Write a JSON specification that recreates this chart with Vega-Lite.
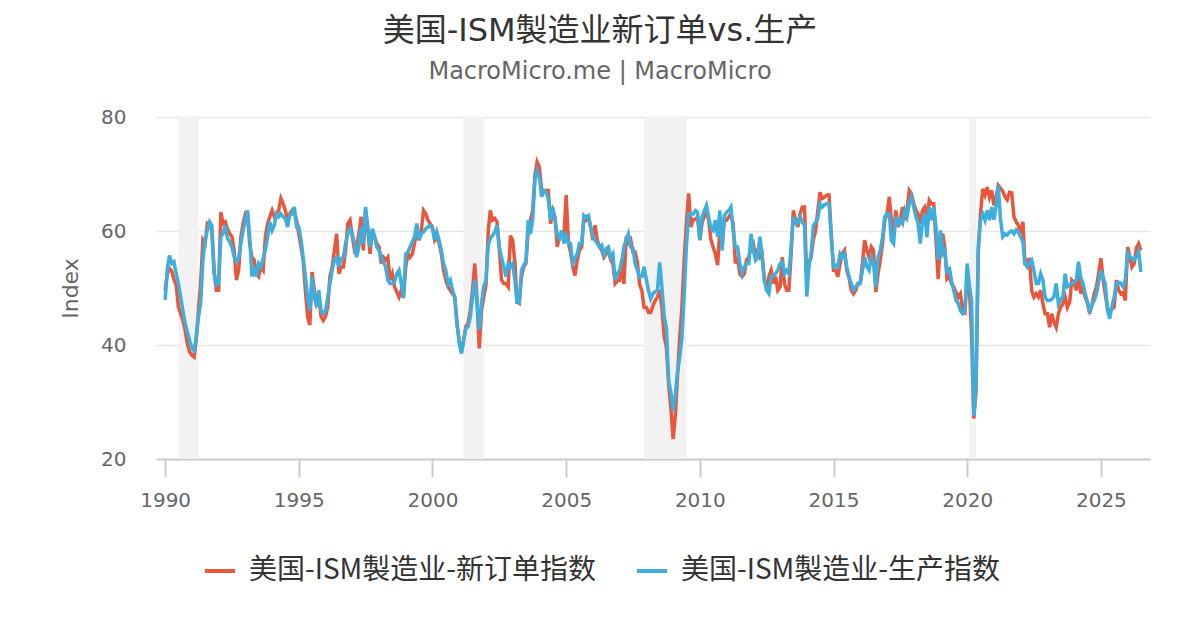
{
  "$schema": "https://vega.github.io/schema/vega-lite/v6.json",
  "width": 994,
  "height": 342,
  "autosize": {"type": "none"},
  "padding": {"left": 156, "top": 117, "right": 50, "bottom": 171},
  "background": "#ffffff",
  "title": {
    "text": "美国-ISM製造业新订单vs.生产",
    "subtitle": "MacroMicro.me | MacroMicro",
    "anchor": "middle",
    "frame": "group",
    "dx": -53,
    "offset": 22,
    "font": "DejaVu Sans, Noto Sans CJK SC",
    "fontSize": 32,
    "fontWeight": "normal",
    "color": "#333333",
    "subtitleFont": "DejaVu Sans",
    "subtitleFontSize": 24,
    "subtitleColor": "#666666",
    "subtitlePadding": 12
  },
  "config": {"view": {"stroke": null}, "font": "DejaVu Sans"},
  "datasets": {
    "rec": [
      {"s": "1990-07", "e": "1991-04"},
      {"s": "2001-03", "e": "2001-12"},
      {"s": "2007-12", "e": "2009-07"},
      {"s": "2020-02", "e": "2020-05"}
    ],
    "ism": [
      {"d":"1990-01","n":49.6,"p":47.9},{"d":"1990-02","n":52.5,"p":53.5},{"d":"1990-03","n":53.4,"p":55.7},{"d":"1990-04","n":53.0,"p":54.3},{"d":"1990-05","n":51.5,"p":54.6},{"d":"1990-06","n":50.5,"p":52.5},{"d":"1990-07","n":46.7,"p":50.8},{"d":"1990-08","n":45.5,"p":48.4},{"d":"1990-09","n":44.3,"p":46.0},{"d":"1990-10","n":42.6,"p":43.8},{"d":"1990-11","n":40.2,"p":42.3},{"d":"1990-12","n":38.8,"p":40.8},
      {"d":"1991-01","n":38.2,"p":39.4},{"d":"1991-02","n":37.9,"p":39.0},{"d":"1991-03","n":40.8,"p":41.4},{"d":"1991-04","n":46.0,"p":44.9},{"d":"1991-05","n":50.8,"p":47.3},{"d":"1991-06","n":58.4,"p":54.9},{"d":"1991-07","n":57.8,"p":58.4},{"d":"1991-08","n":61.3,"p":60.1},{"d":"1991-09","n":61.0,"p":61.6},{"d":"1991-10","n":60.1,"p":61.0},{"d":"1991-11","n":53.1,"p":52.5},{"d":"1991-12","n":49.6,"p":50.5},
      {"d":"1992-01","n":49.6,"p":50.8},{"d":"1992-02","n":63.3,"p":59.0},{"d":"1992-03","n":61.3,"p":59.5},{"d":"1992-04","n":61.6,"p":61.0},{"d":"1992-05","n":60.4,"p":58.7},{"d":"1992-06","n":59.5,"p":58.1},{"d":"1992-07","n":59.0,"p":57.2},{"d":"1992-08","n":56.6,"p":55.4},{"d":"1992-09","n":51.4,"p":54.6},{"d":"1992-10","n":53.1,"p":55.4},{"d":"1992-11","n":59.0,"p":57.8},{"d":"1992-12","n":61.3,"p":60.1},
      {"d":"1993-01","n":63.0,"p":61.9},{"d":"1993-02","n":62.5,"p":63.6},{"d":"1993-03","n":57.8,"p":59.0},{"d":"1993-04","n":55.4,"p":52.0},{"d":"1993-05","n":54.9,"p":53.7},{"d":"1993-06","n":52.5,"p":52.0},{"d":"1993-07","n":52.0,"p":54.3},{"d":"1993-08","n":53.7,"p":53.7},{"d":"1993-09","n":53.1,"p":55.2},{"d":"1993-10","n":59.0,"p":56.6},{"d":"1993-11","n":61.3,"p":59.0},{"d":"1993-12","n":62.5,"p":61.6},
      {"d":"1994-01","n":63.6,"p":60.1},{"d":"1994-02","n":62.5,"p":61.0},{"d":"1994-03","n":63.0,"p":63.0},{"d":"1994-04","n":63.6,"p":62.5},{"d":"1994-05","n":65.7,"p":63.0},{"d":"1994-06","n":64.8,"p":62.5},{"d":"1994-07","n":63.6,"p":62.2},{"d":"1994-08","n":61.9,"p":60.7},{"d":"1994-09","n":63.0,"p":62.8},{"d":"1994-10","n":63.6,"p":63.0},{"d":"1994-11","n":63.3,"p":64.2},{"d":"1994-12","n":61.9,"p":60.7},
      {"d":"1995-01","n":59.5,"p":60.7},{"d":"1995-02","n":57.2,"p":58.4},{"d":"1995-03","n":54.9,"p":55.4},{"d":"1995-04","n":49.6,"p":52.0},{"d":"1995-05","n":45.0,"p":48.4},{"d":"1995-06","n":43.5,"p":46.0},{"d":"1995-07","n":52.8,"p":52.0},{"d":"1995-08","n":49.6,"p":48.4},{"d":"1995-09","n":47.3,"p":46.7},{"d":"1995-10","n":48.4,"p":49.6},{"d":"1995-11","n":45.0,"p":46.0},{"d":"1995-12","n":44.3,"p":45.5},
      {"d":"1996-01","n":45.0,"p":46.0},{"d":"1996-02","n":46.7,"p":48.4},{"d":"1996-03","n":52.0,"p":50.8},{"d":"1996-04","n":53.7,"p":53.1},{"d":"1996-05","n":56.6,"p":54.9},{"d":"1996-06","n":59.5,"p":55.4},{"d":"1996-07","n":52.5,"p":53.7},{"d":"1996-08","n":53.7,"p":55.2},{"d":"1996-09","n":53.7,"p":55.4},{"d":"1996-10","n":56.6,"p":57.8},{"d":"1996-11","n":61.3,"p":59.5},{"d":"1996-12","n":61.9,"p":60.4},
      {"d":"1997-01","n":59.0,"p":59.5},{"d":"1997-02","n":56.6,"p":57.8},{"d":"1997-03","n":57.2,"p":55.4},{"d":"1997-04","n":59.5,"p":57.2},{"d":"1997-05","n":62.5,"p":60.7},{"d":"1997-06","n":56.6,"p":57.8},{"d":"1997-07","n":63.6,"p":64.2},{"d":"1997-08","n":60.1,"p":60.7},{"d":"1997-09","n":56.0,"p":57.2},{"d":"1997-10","n":60.1,"p":60.4},{"d":"1997-11","n":59.0,"p":59.0},{"d":"1997-12","n":57.8,"p":57.2},
      {"d":"1998-01","n":57.2,"p":56.6},{"d":"1998-02","n":54.3,"p":55.4},{"d":"1998-03","n":55.4,"p":54.6},{"d":"1998-04","n":54.9,"p":53.7},{"d":"1998-05","n":55.4,"p":51.4},{"d":"1998-06","n":51.4,"p":50.8},{"d":"1998-07","n":52.5,"p":50.8},{"d":"1998-08","n":50.2,"p":51.1},{"d":"1998-09","n":49.3,"p":52.5},{"d":"1998-10","n":48.4,"p":53.1},{"d":"1998-11","n":49.6,"p":50.8},{"d":"1998-12","n":48.4,"p":48.2},
      {"d":"1999-01","n":53.7,"p":56.0},{"d":"1999-02","n":56.0,"p":56.3},{"d":"1999-03","n":55.4,"p":57.2},{"d":"1999-04","n":56.0,"p":58.1},{"d":"1999-05","n":57.8,"p":59.0},{"d":"1999-06","n":60.1,"p":61.3},{"d":"1999-07","n":58.4,"p":58.4},{"d":"1999-08","n":60.1,"p":59.5},{"d":"1999-09","n":63.6,"p":59.8},{"d":"1999-10","n":63.0,"p":60.4},{"d":"1999-11","n":61.9,"p":60.7},{"d":"1999-12","n":61.3,"p":61.0},
      {"d":"2000-01","n":60.7,"p":60.4},{"d":"2000-02","n":58.4,"p":58.4},{"d":"2000-03","n":59.0,"p":59.8},{"d":"2000-04","n":57.8,"p":58.4},{"d":"2000-05","n":56.0,"p":56.6},{"d":"2000-06","n":53.1,"p":54.3},{"d":"2000-07","n":51.4,"p":53.1},{"d":"2000-08","n":50.2,"p":50.8},{"d":"2000-09","n":49.6,"p":51.4},{"d":"2000-10","n":49.0,"p":49.6},{"d":"2000-11","n":48.4,"p":48.4},{"d":"2000-12","n":43.8,"p":43.8},
      {"d":"2001-01","n":40.8,"p":40.2},{"d":"2001-02","n":38.8,"p":38.5},{"d":"2001-03","n":40.8,"p":40.8},{"d":"2001-04","n":43.2,"p":42.9},{"d":"2001-05","n":43.8,"p":43.2},{"d":"2001-06","n":46.0,"p":44.9},{"d":"2001-07","n":49.6,"p":48.4},{"d":"2001-08","n":54.3,"p":51.4},{"d":"2001-09","n":47.9,"p":47.3},{"d":"2001-10","n":39.4,"p":42.6},{"d":"2001-11","n":46.0,"p":47.3},{"d":"2001-12","n":48.4,"p":50.2},
      {"d":"2002-01","n":50.5,"p":51.4},{"d":"2002-02","n":60.0,"p":57.5},{"d":"2002-03","n":63.6,"p":58.7},{"d":"2002-04","n":61.9,"p":59.2},{"d":"2002-05","n":62.2,"p":59.8},{"d":"2002-06","n":61.6,"p":61.0},{"d":"2002-07","n":57.2,"p":57.2},{"d":"2002-08","n":51.4,"p":55.4},{"d":"2002-09","n":50.8,"p":53.7},{"d":"2002-10","n":50.8,"p":52.0},{"d":"2002-11","n":50.2,"p":54.3},{"d":"2002-12","n":59.2,"p":53.7},
      {"d":"2003-01","n":58.4,"p":54.3},{"d":"2003-02","n":54.3,"p":51.3},{"d":"2003-03","n":47.5,"p":47.5},{"d":"2003-04","n":47.3,"p":47.5},{"d":"2003-05","n":52.0,"p":53.1},{"d":"2003-06","n":53.7,"p":54.0},{"d":"2003-07","n":54.3,"p":54.6},{"d":"2003-08","n":60.1,"p":61.9},{"d":"2003-09","n":61.9,"p":59.5},{"d":"2003-10","n":63.6,"p":61.9},{"d":"2003-11","n":69.8,"p":68.9},{"d":"2003-12","n":72.1,"p":70.6},
      {"d":"2004-01","n":71.2,"p":69.5},{"d":"2004-02","n":67.1,"p":66.0},{"d":"2004-03","n":67.1,"p":67.1},{"d":"2004-04","n":67.1,"p":66.8},{"d":"2004-05","n":67.1,"p":65.7},{"d":"2004-06","n":61.3,"p":61.9},{"d":"2004-07","n":63.6,"p":64.2},{"d":"2004-08","n":62.5,"p":61.9},{"d":"2004-09","n":57.2,"p":59.5},{"d":"2004-10","n":59.0,"p":58.7},{"d":"2004-11","n":59.5,"p":60.1},{"d":"2004-12","n":59.0,"p":57.8},
      {"d":"2005-01","n":66.3,"p":59.2},{"d":"2005-02","n":57.8,"p":57.8},{"d":"2005-03","n":56.3,"p":57.8},{"d":"2005-04","n":53.7,"p":54.3},{"d":"2005-05","n":52.2,"p":55.2},{"d":"2005-06","n":54.9,"p":56.0},{"d":"2005-07","n":56.6,"p":57.8},{"d":"2005-08","n":57.2,"p":57.8},{"d":"2005-09","n":62.5,"p":62.7},{"d":"2005-10","n":61.9,"p":62.5},{"d":"2005-11","n":62.5,"p":62.7},{"d":"2005-12","n":60.7,"p":60.7},
      {"d":"2006-01","n":58.4,"p":59.2},{"d":"2006-02","n":61.0,"p":58.4},{"d":"2006-03","n":58.4,"p":57.8},{"d":"2006-04","n":57.2,"p":57.2},{"d":"2006-05","n":56.6,"p":57.5},{"d":"2006-06","n":55.4,"p":55.4},{"d":"2006-07","n":56.0,"p":56.9},{"d":"2006-08","n":56.6,"p":57.2},{"d":"2006-09","n":54.9,"p":55.4},{"d":"2006-10","n":54.3,"p":56.0},{"d":"2006-11","n":50.8,"p":51.3},{"d":"2006-12","n":51.3,"p":52.5},
      {"d":"2007-01","n":51.3,"p":53.1},{"d":"2007-02","n":55.0,"p":54.8},{"d":"2007-03","n":50.7,"p":57.2},{"d":"2007-04","n":59.0,"p":58.5},{"d":"2007-05","n":58.0,"p":59.5},{"d":"2007-06","n":58.5,"p":57.2},{"d":"2007-07","n":56.3,"p":57.0},{"d":"2007-08","n":56.3,"p":54.3},{"d":"2007-09","n":54.5,"p":53.1},{"d":"2007-10","n":50.7,"p":51.9},{"d":"2007-11","n":49.5,"p":52.0},{"d":"2007-12","n":46.6,"p":53.7},
      {"d":"2008-01","n":46.6,"p":51.5},{"d":"2008-02","n":45.7,"p":49.5},{"d":"2008-03","n":45.7,"p":48.1},{"d":"2008-04","n":46.9,"p":49.0},{"d":"2008-05","n":47.8,"p":49.4},{"d":"2008-06","n":48.4,"p":49.6},{"d":"2008-07","n":49.6,"p":54.5},{"d":"2008-08","n":46.6,"p":50.1},{"d":"2008-09","n":41.5,"p":45.0},{"d":"2008-10","n":39.6,"p":43.0},{"d":"2008-11","n":33.1,"p":33.7},{"d":"2008-12","n":29.0,"p":31.7},
      {"d":"2009-01","n":23.5,"p":28.4},{"d":"2009-02","n":27.8,"p":31.4},{"d":"2009-03","n":34.3,"p":35.2},{"d":"2009-04","n":41.3,"p":37.8},{"d":"2009-05","n":46.6,"p":41.3},{"d":"2009-06","n":54.8,"p":49.0},{"d":"2009-07","n":61.3,"p":57.2},{"d":"2009-08","n":66.6,"p":63.0},{"d":"2009-09","n":60.7,"p":63.0},{"d":"2009-10","n":62.0,"p":63.0},{"d":"2009-11","n":62.0,"p":63.6},{"d":"2009-12","n":62.5,"p":63.3},
      {"d":"2010-01","n":58.4,"p":58.4},{"d":"2010-02","n":61.5,"p":62.5},{"d":"2010-03","n":62.5,"p":63.5},{"d":"2010-04","n":63.6,"p":64.5},{"d":"2010-05","n":61.9,"p":62.5},{"d":"2010-06","n":58.5,"p":60.5},{"d":"2010-07","n":57.2,"p":60.1},{"d":"2010-08","n":56.0,"p":61.9},{"d":"2010-09","n":54.0,"p":59.0},{"d":"2010-10","n":60.1,"p":63.6},{"d":"2010-11","n":57.2,"p":56.6},{"d":"2010-12","n":61.9,"p":62.7},
      {"d":"2011-01","n":61.9,"p":63.3},{"d":"2011-02","n":62.5,"p":63.6},{"d":"2011-03","n":63.0,"p":64.2},{"d":"2011-04","n":61.3,"p":60.1},{"d":"2011-05","n":54.3,"p":57.2},{"d":"2011-06","n":55.4,"p":57.2},{"d":"2011-07","n":52.5,"p":54.3},{"d":"2011-08","n":52.0,"p":52.5},{"d":"2011-09","n":52.5,"p":53.7},{"d":"2011-10","n":54.9,"p":54.3},{"d":"2011-11","n":55.4,"p":54.3},{"d":"2011-12","n":57.2,"p":59.5},
      {"d":"2012-01","n":57.8,"p":56.6},{"d":"2012-02","n":55.4,"p":54.9},{"d":"2012-03","n":56.6,"p":55.4},{"d":"2012-04","n":55.4,"p":59.0},{"d":"2012-05","n":56.0,"p":55.4},{"d":"2012-06","n":51.3,"p":51.3},{"d":"2012-07","n":50.2,"p":49.6},{"d":"2012-08","n":52.0,"p":49.0},{"d":"2012-09","n":53.1,"p":52.0},{"d":"2012-10","n":50.8,"p":52.2},{"d":"2012-11","n":52.0,"p":52.5},{"d":"2012-12","n":49.6,"p":53.1},
      {"d":"2013-01","n":50.2,"p":54.3},{"d":"2013-02","n":55.4,"p":54.6},{"d":"2013-03","n":50.8,"p":52.5},{"d":"2013-04","n":49.6,"p":53.1},{"d":"2013-05","n":49.6,"p":52.5},{"d":"2013-06","n":56.0,"p":57.2},{"d":"2013-07","n":63.6,"p":62.5},{"d":"2013-08","n":61.9,"p":61.3},{"d":"2013-09","n":60.7,"p":61.3},{"d":"2013-10","n":63.0,"p":62.5},{"d":"2013-11","n":64.2,"p":61.5},{"d":"2013-12","n":64.2,"p":61.0},
      {"d":"2014-01","n":51.2,"p":48.5},{"d":"2014-02","n":54.5,"p":54.0},{"d":"2014-03","n":55.4,"p":56.0},{"d":"2014-04","n":58.5,"p":61.0},{"d":"2014-05","n":60.0,"p":61.5},{"d":"2014-06","n":63.6,"p":62.2},{"d":"2014-07","n":66.8,"p":64.8},{"d":"2014-08","n":65.7,"p":64.2},{"d":"2014-09","n":66.0,"p":64.6},{"d":"2014-10","n":66.3,"p":64.8},{"d":"2014-11","n":66.3,"p":64.8},{"d":"2014-12","n":59.5,"p":58.9},
      {"d":"2015-01","n":53.1,"p":53.7},{"d":"2015-02","n":53.1,"p":54.0},{"d":"2015-03","n":52.0,"p":53.7},{"d":"2015-04","n":54.3,"p":56.0},{"d":"2015-05","n":56.0,"p":55.4},{"d":"2015-06","n":56.6,"p":56.0},{"d":"2015-07","n":53.1,"p":53.7},{"d":"2015-08","n":51.8,"p":52.0},{"d":"2015-09","n":49.6,"p":50.8},{"d":"2015-10","n":49.0,"p":49.6},{"d":"2015-11","n":49.6,"p":50.2},{"d":"2015-12","n":50.8,"p":50.8},
      {"d":"2016-01","n":50.8,"p":50.8},{"d":"2016-02","n":54.3,"p":53.1},{"d":"2016-03","n":58.4,"p":55.4},{"d":"2016-04","n":56.6,"p":53.7},{"d":"2016-05","n":55.4,"p":53.1},{"d":"2016-06","n":57.2,"p":55.4},{"d":"2016-07","n":56.6,"p":54.3},{"d":"2016-08","n":49.3,"p":50.2},{"d":"2016-09","n":52.5,"p":55.4},{"d":"2016-10","n":54.9,"p":56.6},{"d":"2016-11","n":57.8,"p":58.9},{"d":"2016-12","n":61.9,"p":62.5},
      {"d":"2017-01","n":63.0,"p":63.0},{"d":"2017-02","n":66.0,"p":63.0},{"d":"2017-03","n":61.9,"p":58.4},{"d":"2017-04","n":59.5,"p":57.8},{"d":"2017-05","n":63.6,"p":62.5},{"d":"2017-06","n":60.7,"p":61.3},{"d":"2017-07","n":61.9,"p":61.9},{"d":"2017-08","n":64.2,"p":61.3},{"d":"2017-09","n":61.9,"p":63.6},{"d":"2017-10","n":63.6,"p":62.5},{"d":"2017-11","n":67.1,"p":64.8},{"d":"2017-12","n":66.5,"p":66.0},
      {"d":"2018-01","n":64.8,"p":64.2},{"d":"2018-02","n":63.6,"p":62.5},{"d":"2018-03","n":63.0,"p":61.3},{"d":"2018-04","n":61.3,"p":57.8},{"d":"2018-05","n":63.6,"p":61.9},{"d":"2018-06","n":64.2,"p":63.0},{"d":"2018-07","n":62.5,"p":58.9},{"d":"2018-08","n":65.4,"p":64.2},{"d":"2018-09","n":64.8,"p":61.9},{"d":"2018-10","n":64.8,"p":64.2},{"d":"2018-11","n":58.4,"p":60.7},{"d":"2018-12","n":51.6,"p":54.9},
      {"d":"2019-01","n":58.4,"p":60.1},{"d":"2019-02","n":59.5,"p":56.0},{"d":"2019-03","n":57.2,"p":56.6},{"d":"2019-04","n":51.6,"p":52.5},{"d":"2019-05","n":52.0,"p":53.7},{"d":"2019-06","n":50.8,"p":51.3},{"d":"2019-07","n":50.2,"p":49.6},{"d":"2019-08","n":49.3,"p":47.9},{"d":"2019-09","n":48.4,"p":47.3},{"d":"2019-10","n":49.0,"p":46.0},{"d":"2019-11","n":46.0,"p":45.5},{"d":"2019-12","n":45.7,"p":46.0},
      {"d":"2020-01","n":52.0,"p":54.3},{"d":"2020-02","n":49.8,"p":50.3},{"d":"2020-03","n":42.2,"p":47.7},{"d":"2020-04","n":27.1,"p":27.5},{"d":"2020-05","n":31.8,"p":33.2},{"d":"2020-06","n":56.4,"p":57.3},{"d":"2020-07","n":63.0,"p":61.9},{"d":"2020-08","n":67.4,"p":63.0},{"d":"2020-09","n":66.3,"p":61.9},{"d":"2020-10","n":67.7,"p":63.6},{"d":"2020-11","n":65.9,"p":61.9},{"d":"2020-12","n":67.1,"p":64.2},
      {"d":"2021-01","n":64.5,"p":62.0},{"d":"2021-02","n":66.0,"p":64.5},{"d":"2021-03","n":68.0,"p":68.0},{"d":"2021-04","n":67.5,"p":62.0},{"d":"2021-05","n":67.0,"p":59.0},{"d":"2021-06","n":66.0,"p":59.5},{"d":"2021-07","n":65.5,"p":59.3},{"d":"2021-08","n":66.8,"p":59.8},{"d":"2021-09","n":66.7,"p":60.0},{"d":"2021-10","n":62.5,"p":59.5},{"d":"2021-11","n":61.6,"p":60.2},{"d":"2021-12","n":61.0,"p":59.8},
      {"d":"2022-01","n":59.5,"p":59.0},{"d":"2022-02","n":61.6,"p":58.1},{"d":"2022-03","n":54.0,"p":54.3},{"d":"2022-04","n":54.9,"p":53.7},{"d":"2022-05","n":55.0,"p":54.5},{"d":"2022-06","n":49.5,"p":54.9},{"d":"2022-07","n":48.4,"p":53.1},{"d":"2022-08","n":49.0,"p":50.8},{"d":"2022-09","n":48.4,"p":50.8},{"d":"2022-10","n":49.6,"p":52.5},{"d":"2022-11","n":47.2,"p":51.4},{"d":"2022-12","n":45.5,"p":48.4},
      {"d":"2023-01","n":45.5,"p":47.8},{"d":"2023-02","n":43.1,"p":47.8},{"d":"2023-03","n":45.5,"p":48.0},{"d":"2023-04","n":44.0,"p":48.5},{"d":"2023-05","n":43.1,"p":50.8},{"d":"2023-06","n":45.5,"p":47.2},{"d":"2023-07","n":46.6,"p":48.0},{"d":"2023-08","n":47.2,"p":48.4},{"d":"2023-09","n":48.4,"p":52.5},{"d":"2023-10","n":46.6,"p":50.2},{"d":"2023-11","n":47.5,"p":50.5},{"d":"2023-12","n":51.4,"p":50.8},
      {"d":"2024-01","n":51.0,"p":51.0},{"d":"2024-02","n":49.6,"p":51.4},{"d":"2024-03","n":53.0,"p":54.6},{"d":"2024-04","n":49.0,"p":51.9},{"d":"2024-05","n":50.0,"p":50.8},{"d":"2024-06","n":48.4,"p":49.0},{"d":"2024-07","n":47.4,"p":47.5},{"d":"2024-08","n":45.5,"p":46.0},{"d":"2024-09","n":47.0,"p":47.0},{"d":"2024-10","n":49.0,"p":47.8},{"d":"2024-11","n":50.2,"p":49.0},{"d":"2024-12","n":52.5,"p":51.0},
      {"d":"2025-01","n":55.2,"p":53.1},{"d":"2025-02","n":51.5,"p":51.8},{"d":"2025-03","n":49.0,"p":50.8},{"d":"2025-04","n":46.5,"p":46.2},{"d":"2025-05","n":46.0,"p":44.6},{"d":"2025-06","n":46.3,"p":46.8},{"d":"2025-07","n":46.6,"p":48.4},{"d":"2025-08","n":51.4,"p":50.8},{"d":"2025-09","n":49.6,"p":51.0},{"d":"2025-10","n":49.0,"p":50.8},{"d":"2025-11","n":49.2,"p":50.2},{"d":"2025-12","n":47.8,"p":51.4},
      {"d":"2026-01","n":57.2,"p":56.1},{"d":"2026-02","n":55.5,"p":55.5},{"d":"2026-03","n":53.7,"p":55.2},{"d":"2026-04","n":54.3,"p":54.9},{"d":"2026-05","n":57.0,"p":55.5},{"d":"2026-06","n":57.8,"p":56.4},{"d":"2026-07","n":56.6,"p":52.8}
    ]
  },
  "layer": [
    {
      "data": {"name": "rec"},
      "mark": {"type": "rect", "color": "#f2f2f2"},
      "encoding": {
        "x": {
          "field": "s",
          "type": "temporal",
          "scale": {"domain": [{"year": 1989, "month": 8, "date": 29}, {"year": 2026, "month": 11, "date": 3}]},
          "axis": {
            "title": null,
            "values": [{"year": 1990}, {"year": 1995}, {"year": 2000}, {"year": 2005}, {"year": 2010}, {"year": 2015}, {"year": 2020}, {"year": 2025}],
            "format": "%Y",
            "grid": false,
            "labelFont": "DejaVu Sans",
            "labelFontSize": 20,
            "labelColor": "#666666",
            "labelPadding": 13,
            "tickColor": "#cccccc",
            "tickSize": 18,
            "tickWidth": 2,
            "domainColor": "#cccccc",
            "domainWidth": 2
          }
        },
        "x2": {"field": "e"}
      }
    },
    {
      "data": {"name": "ism"},
      "mark": {"type": "line", "strokeWidth": 3.5},
      "encoding": {
        "x": {"field": "d", "type": "temporal"},
        "y": {
          "field": "n",
          "type": "quantitative",
          "scale": {"domain": [20, 80]},
          "axis": {
            "title": "Index",
            "values": [20, 40, 60, 80],
            "domain": false,
            "ticks": false,
            "gridColor": "#e6e6e6",
            "gridWidth": 1.5,
            "labelFont": "DejaVu Sans",
            "labelFontSize": 20,
            "labelColor": "#666666",
            "labelPadding": 30,
            "titleFont": "DejaVu Sans",
            "titleFontSize": 22,
            "titleFontWeight": "normal",
            "titleColor": "#666666",
            "titlePadding": 18
          }
        },
        "color": {
          "datum": "美国-ISM製造业-新订单指数",
          "scale": {
            "domain": ["美国-ISM製造业-新订单指数", "美国-ISM製造业-生产指数"],
            "range": ["#e8563c", "#3eaedc"]
          },
          "legend": {
            "title": null,
            "orient": "none",
            "legendX": 47,
            "legendY": 437,
            "direction": "horizontal",
            "symbolType": "stroke",
            "symbolSize": 900,
            "symbolStrokeWidth": 4,
            "labelFont": "Noto Sans CJK SC",
            "labelFontSize": 28,
            "labelColor": "#333333",
            "labelLimit": 0,
            "labelOffset": 12,
            "columnPadding": 32
          }
        }
      }
    },
    {
      "data": {"name": "ism"},
      "mark": {"type": "line", "strokeWidth": 3.5},
      "encoding": {
        "x": {"field": "d", "type": "temporal"},
        "y": {"field": "p", "type": "quantitative"},
        "color": {"datum": "美国-ISM製造业-生产指数"}
      }
    }
  ]
}
